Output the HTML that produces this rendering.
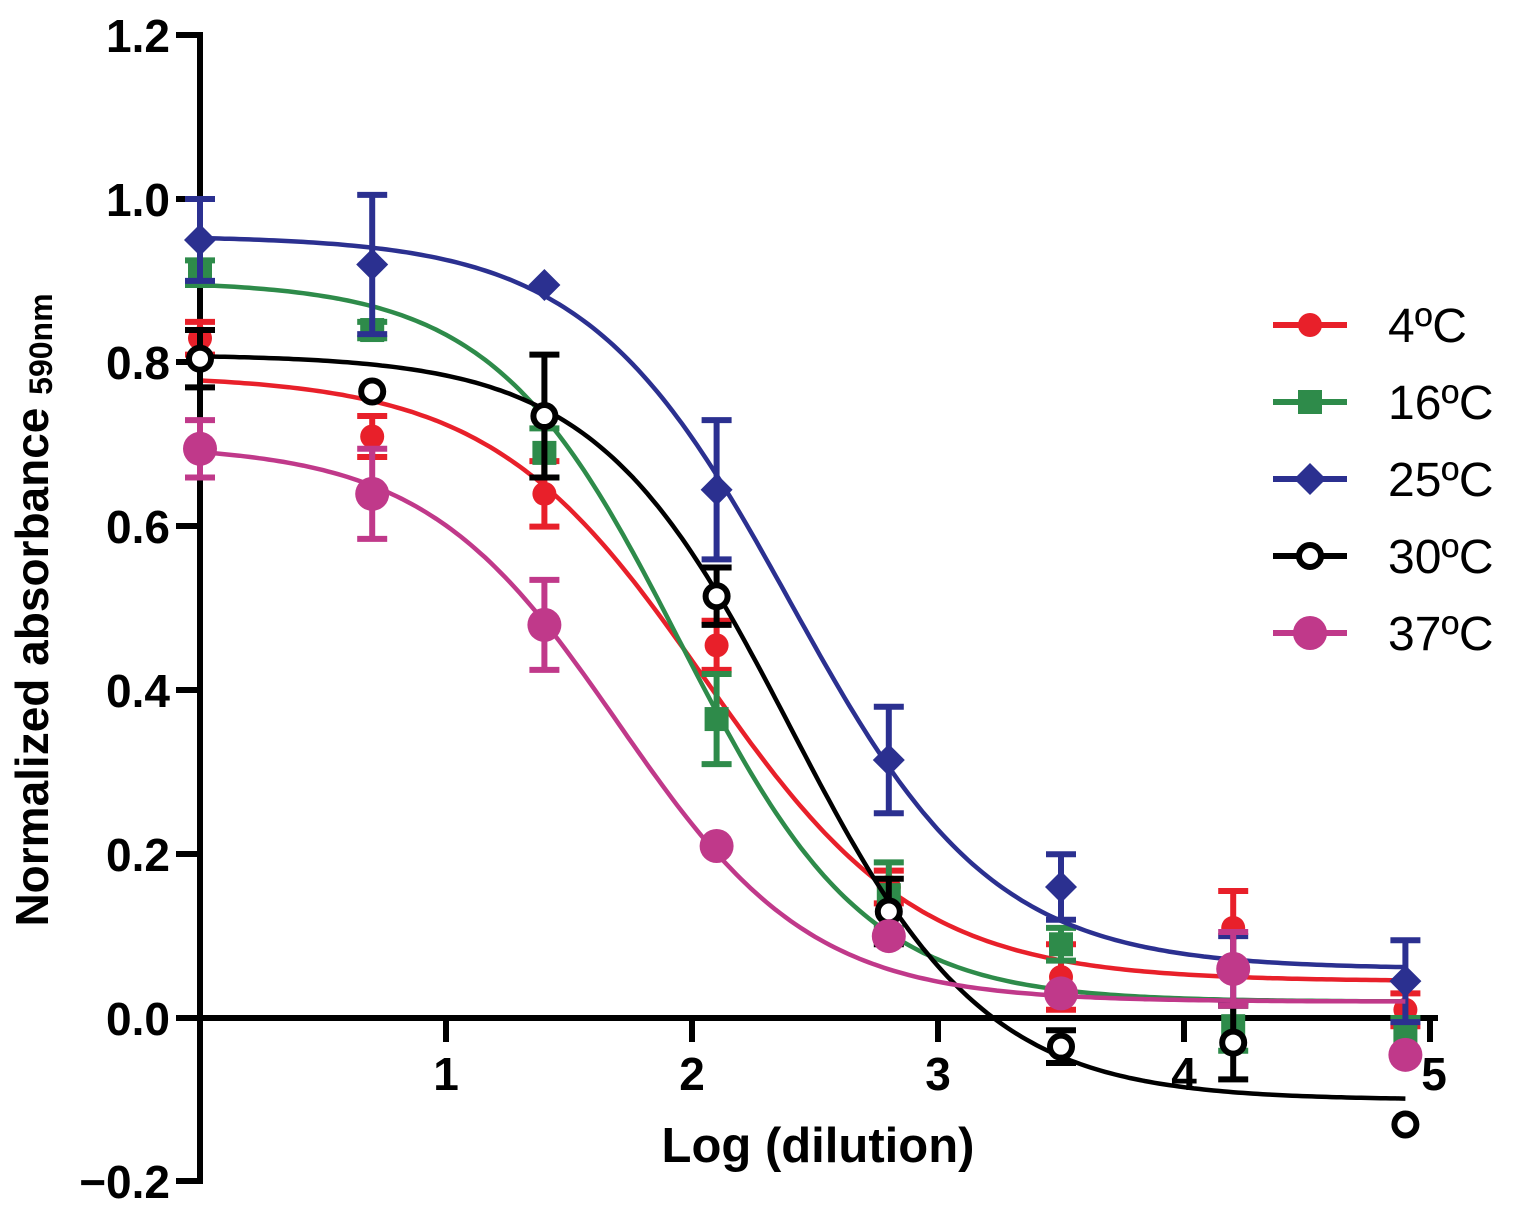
<!DOCTYPE html>
<html><head><meta charset="utf-8"><style>
html,body{margin:0;padding:0;background:#fff}
svg{display:block}
text{font-family:"Liberation Sans",Arial,sans-serif;font-weight:bold}
</style></head><body>
<svg id="s" width="1514" height="1211" viewBox="0 0 1514 1211" xmlns="http://www.w3.org/2000/svg">
<g stroke="#000" stroke-width="6" fill="none">
<line x1="200" y1="32" x2="200" y2="1184"/>
<line x1="200" y1="1018" x2="1438" y2="1018"/>
<line x1="176" y1="35" x2="200" y2="35"/>
<line x1="176" y1="199" x2="200" y2="199"/>
<line x1="176" y1="362" x2="200" y2="362"/>
<line x1="176" y1="526" x2="200" y2="526"/>
<line x1="176" y1="690" x2="200" y2="690"/>
<line x1="176" y1="854" x2="200" y2="854"/>
<line x1="176" y1="1018" x2="200" y2="1018"/>
<line x1="176" y1="1181" x2="200" y2="1181"/>
<line x1="446" y1="1018" x2="446" y2="1042"/>
<line x1="692" y1="1018" x2="692" y2="1042"/>
<line x1="938" y1="1018" x2="938" y2="1042"/>
<line x1="1184" y1="1018" x2="1184" y2="1042"/>
<line x1="1430" y1="1018" x2="1430" y2="1042"/>
</g>
<g font-size="46" text-anchor="end">
<text x="170" y="52">1.2</text>
<text x="170" y="216">1.0</text>
<text x="170" y="379">0.8</text>
<text x="170" y="543">0.6</text>
<text x="170" y="707">0.4</text>
<text x="170" y="871">0.2</text>
<text x="170" y="1035">0.0</text>
<text x="170" y="1198">−0.2</text>
</g>
<g font-size="46" text-anchor="middle">
<text x="446" y="1090">1</text>
<text x="692" y="1090">2</text>
<text x="938" y="1090">3</text>
<text x="1184" y="1090">4</text>
<text x="1434" y="1090">5</text>
<text x="818" y="1162" font-size="49">Log (dilution)</text>
</g>
<text transform="translate(48,610) rotate(-90)" font-size="46" text-anchor="middle">Normalized absorbance <tspan font-size="32" dy="4">590nm</tspan></text>
<g id="plot"></g>
<g id="leg"></g>
</svg>
<script>
const NS="http://www.w3.org/2000/svg";
const X=v=>200+246*v, Y=v=>1018-819*v;
const xs=[0,0.7,1.4,2.1,2.8,3.5,4.2,4.9];
const series=[
{c:"#e8202a",m:"circle",r:12,p:[.785,.045,2.05,1.0],d:[[.83,.02],[.71,.025],[.64,.04],[.455,.03],[.16,.02],[.05,.04],[.11,.045],[.01,.02]],name:"4ºC"},
{c:"#2e8b4a",m:"square",r:12,p:[.9,.02,1.95,1.15],d:[[.91,.015],[.84,.01],[.69,.03],[.365,.055],[.15,.04],[.09,.02],[-.01,.03],[-.02,.02]],name:"16ºC"},
{c:"#2b3090",m:"diamond",r:16,p:[.955,.06,2.4,1.05],d:[[.95,.05],[.92,.085],[.895,0],[.645,.085],[.315,.065],[.16,.04],[.06,.04],[.045,.05]],name:"25ºC"},
{c:"#000",m:"open",r:13,p:[.81,-.1,2.4,1.1],d:[[.805,.035],[.765,0],[.735,.075],[.515,.035],[.13,.04],[-.035,.02],[-.03,.045],[-.13,0]],name:"30ºC"},
{c:"#c0398a",m:"circle",r:17,p:[.7,.02,1.7,1.1],d:[[.695,.035],[.64,.055],[.48,.055],[.21,0],[.10,0],[.03,0],[.06,.045],[-.045,0]],name:"37ºC"}
];
const plot=document.getElementById("plot"),leg=document.getElementById("leg");
function el(t,a,par){const e=document.createElementNS(NS,t);for(const k in a)e.setAttribute(k,a[k]);par.appendChild(e);return e;}
function marker(s,x,y,par){
 if(s.m=="circle")el("circle",{cx:x,cy:y,r:s.r,fill:s.c},par);
 else if(s.m=="square")el("rect",{x:x-s.r,y:y-s.r,width:2*s.r,height:2*s.r,fill:s.c},par);
 else if(s.m=="diamond")el("polygon",{points:`${x},${y-s.r} ${x+s.r},${y} ${x},${y+s.r} ${x-s.r},${y}`,fill:s.c},par);
 else el("circle",{cx:x,cy:y,r:s.r-2,fill:"#fff",stroke:s.c,"stroke-width":6},par);
}
series.forEach((s,i)=>{
 const [t,b,ec,h]=s.p;let d="";
 for(let v=0;v<=4.9;v+=0.02){const y=b+(t-b)/(1+Math.pow(10,(v-ec)*h));d+=(d?"L":"M")+X(v).toFixed(1)+","+Y(y).toFixed(1);}
 el("path",{d:d,fill:"none",stroke:s.c,"stroke-width":4.5},plot);
 s.d.forEach((p,j)=>{const x=X(xs[j]);if(p[1]>0){const y1=Y(p[0]+p[1]),y2=Y(p[0]-p[1]);
  el("path",{d:`M${x},${y1}V${y2}M${x-15},${y1}H${x+15}M${x-15},${y2}H${x+15}`,stroke:s.c,"stroke-width":6,fill:"none"},plot);}
  marker(s,x,Y(p[0]),plot);});
 const ly=325+77*i;
 el("line",{x1:1273,y1:ly,x2:1347,y2:ly,stroke:s.c,"stroke-width":6},leg);
 marker(s,1310,ly,leg);
 const tx=el("text",{x:1388,y:ly+17,style:"font-weight:normal;font-size:48px"},leg);tx.textContent=s.name;
});
</script>
</body></html>
